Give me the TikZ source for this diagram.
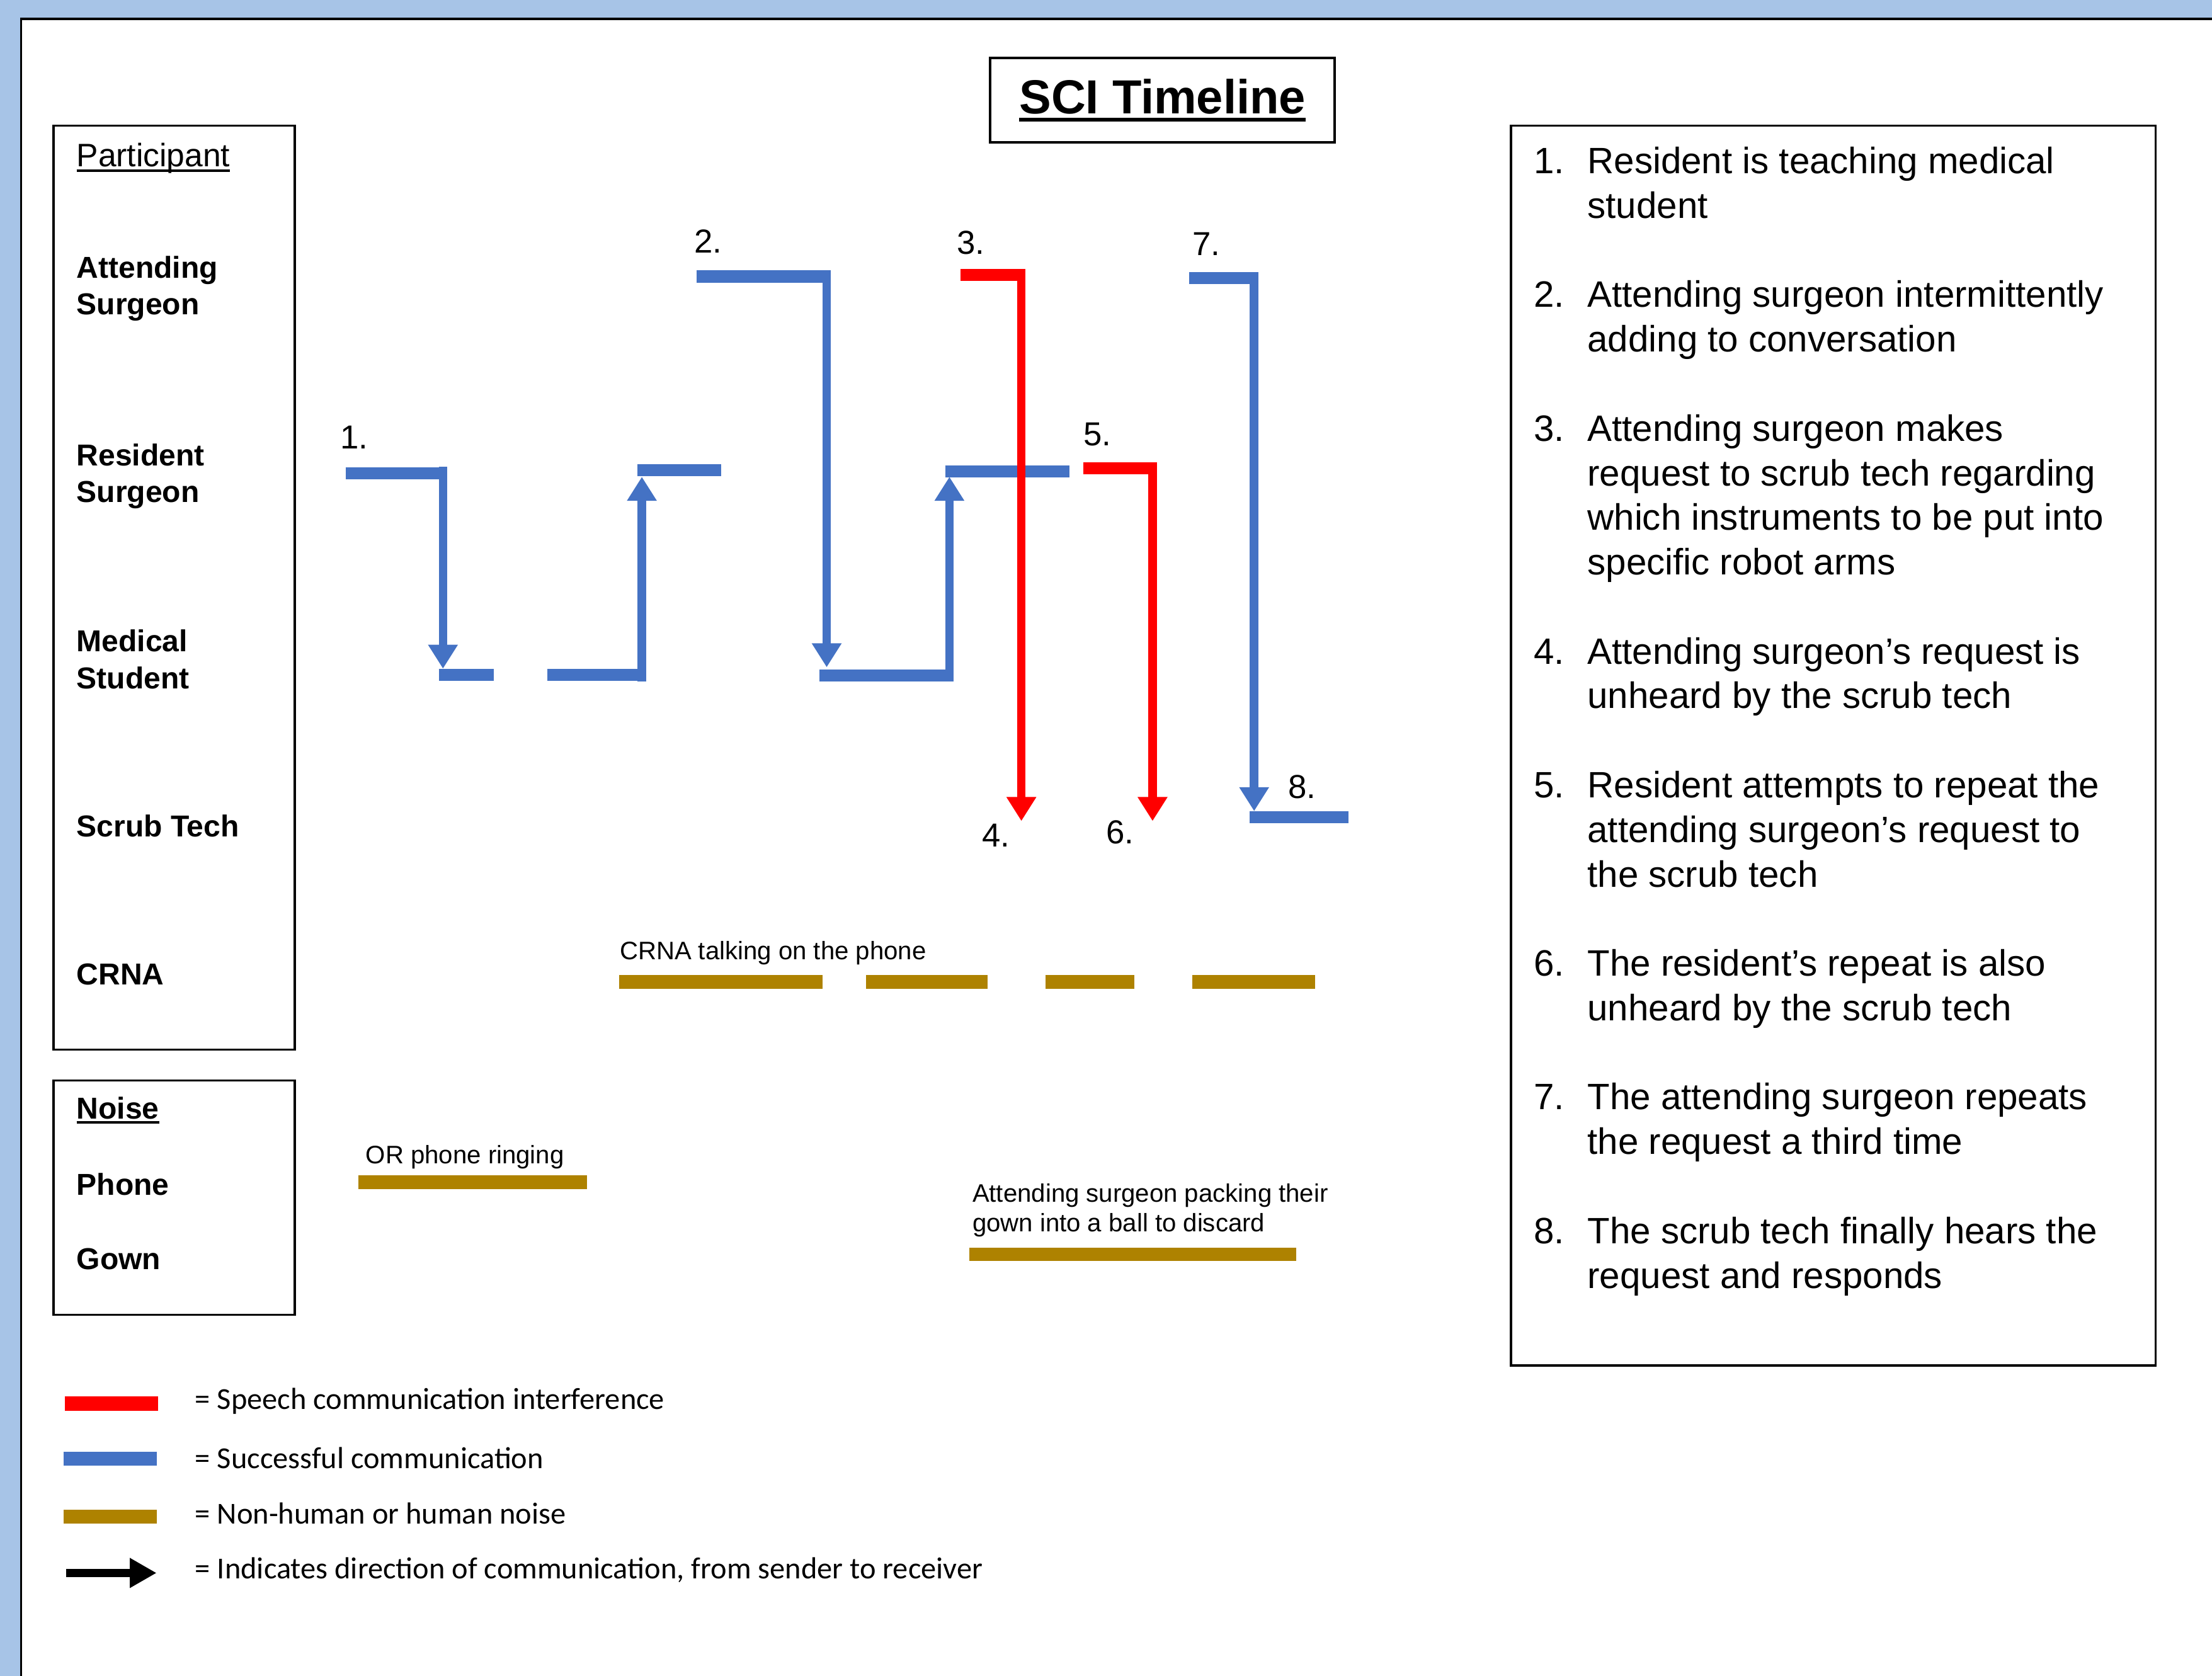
\documentclass[tikz,border=0pt]{standalone}
\usepackage{fontspec}
\setmainfont{Liberation Sans}
\newfontfamily\legendfont{Carlito}
\usetikzlibrary{arrows.meta}

\definecolor{pageblue}{RGB}{167,196,231}
\definecolor{okblue}{RGB}{68,114,196}
\definecolor{sciRed}{RGB}{255,0,0}
\definecolor{noisegold}{RGB}{174,130,0}

\newcommand{\ulword}[1]{\setbox0=\hbox{#1}\rlap{\rule[-0.17em]{\wd0}{0.08em}}\box0}
\newcommand{\itemfont}{\fontsize{14.8pt}{18pt}\selectfont}
\newcommand{\rolefont}{\bfseries\fontsize{12.2pt}{14.8pt}\selectfont}
\newcommand{\notefont}{\fontsize{10.2pt}{12pt}\selectfont}
\newcommand{\lines}[1]{\parbox[t]{90mm}{#1}}

\tikzset{
    box/.style={line width=0.3mm},
    hbar/.style={line width=1.7mm},
    vbar/.style={line width=1.2mm, -{Triangle[width=4mm,length=3.4mm]}},
    noisebar/.style={line width=1.9mm, noisegold},
    swatch/.style={line width=2mm},
    role/.style={anchor=base west, inner sep=0pt, font=\rolefont},
    itemtext/.style={anchor=base west, inner sep=0pt, font=\itemfont},
    stepnum/.style={inner sep=0pt, font=\fontsize{13.4pt}{15pt}\selectfont},
    note/.style={anchor=base west, inner sep=0pt, font=\notefont},
    keytext/.style={anchor=base west, inner sep=0pt, font=\legendfont\fontsize{12.3pt}{14pt}\selectfont}
}

\begin{document}
\begin{tikzpicture}[x=0.2mm, y=-0.2mm]
    \useasboundingbox (0,0) rectangle (1568,1188);
    \fill[pageblue] (0,0) rectangle (1568,1188);
    \fill[white] (15,13.4) rectangle (1568,1188);
    \draw[box] (15,1188) -- (15,13.4) -- (1568,13.4);

    \node[draw, line width=0.35mm, minimum width=48.8mm, minimum height=12mm, inner sep=0pt,
          font=\bfseries\fontsize{19.3pt}{22pt}\selectfont] (title) at (824,71) {\ulword{SCI Timeline}};

    % participants
    \draw[box] (38,89) rectangle (209,744);
    \node[role, font=\fontsize{13.1pt}{15pt}\selectfont] (participant) at (54,118) {\ulword{Participant}};
    \node[role] (attending) at (54,197) {\lines{Attending\\Surgeon}};
    \node[role] (resident) at (54,330) {\lines{Resident\\Surgeon}};
    \node[role] (student) at (54,462) {\lines{Medical\\Student}};
    \node[role] (scrub) at (54,593) {Scrub Tech};
    \node[role] (crna) at (54,698) {CRNA};

    \draw[box] (38,766) rectangle (209,932);
    \node[role] (noise) at (54,793) {\ulword{Noise}};
    \node[role] (phone) at (54,847) {Phone};
    \node[role] (gown) at (54,900) {Gown};

    % timeline
    \draw[hbar, okblue] (245,335.5) -- (317,335.5);
    \draw[vbar, okblue] (314,331) -- (314,474);
    \draw[hbar, okblue] (311,478.5) -- (350,478.5);
    \draw[hbar, okblue] (388,478.5) -- (458,478.5);
    \draw[vbar, okblue] (455,483) -- (455,338);
    \draw[hbar, okblue] (452,333.5) -- (511,333.5);

    \draw[hbar, okblue] (494,196) -- (589,196);
    \draw[vbar, okblue] (586,192) -- (586,473);
    \draw[hbar, okblue] (581,479) -- (675,479);
    \draw[vbar, okblue] (673,483) -- (673,338);
    \draw[hbar, okblue] (670,334) -- (758,334);

    \draw[hbar, okblue] (843,197) -- (892,197);
    \draw[vbar, okblue] (889,193) -- (889,575);
    \draw[hbar, okblue] (886,579.5) -- (956,579.5);

    \draw[hbar, sciRed] (681,195) -- (727,195);
    \draw[vbar, sciRed] (724,191) -- (724,582);
    \draw[hbar, sciRed] (768,332) -- (820,332);
    \draw[vbar, sciRed] (817,328) -- (817,582);

    \node[stepnum] (s1) at (251,310) {1.};
    \node[stepnum] (s2) at (502,171) {2.};
    \node[stepnum] (s3) at (688,172) {3.};
    \node[stepnum] (s4) at (706,592) {4.};
    \node[stepnum] (s5) at (778,308) {5.};
    \node[stepnum] (s6) at (794,590) {6.};
    \node[stepnum] (s7) at (855,173) {7.};
    \node[stepnum] (s8) at (923,558) {8.};

    % noise
    \node[note] (crnaphone) at (439,680) {CRNA talking on the phone};
    \draw[noisebar] (439,696) -- (583,696);
    \draw[noisebar] (614,696) -- (700,696);
    \draw[noisebar] (741,696) -- (804,696);
    \draw[noisebar] (845,696) -- (932,696);
    \node[note] (ring) at (259,825) {OR phone ringing};
    \draw[noisebar] (254,838) -- (416,838);
    \node[note] (packing) at (689,852) {\lines{Attending surgeon packing their\\gown into a ball to discard}};
    \draw[noisebar] (687,889) -- (919,889);

    % steps
    \draw[box] (1071,89) rectangle (1528,968);
    \node[itemtext] (n1) at (1087,123) {1.};
    \node[itemtext] (t1) at (1125,123) {\lines{Resident is teaching medical\\student}};
    \node[itemtext] (n2) at (1087,217.8) {2.};
    \node[itemtext] (t2) at (1125,217.8) {\lines{Attending surgeon intermittently\\adding to conversation}};
    \node[itemtext] (n3) at (1087,312.6) {3.};
    \node[itemtext] (t3) at (1125,312.6) {\lines{Attending surgeon makes\\request to scrub tech regarding\\which instruments to be put into\\specific robot arms}};
    \node[itemtext] (n4) at (1087,470.6) {4.};
    \node[itemtext] (t4) at (1125,470.6) {\lines{Attending surgeon’s request is\\unheard by the scrub tech}};
    \node[itemtext] (n5) at (1087,565.4) {5.};
    \node[itemtext] (t5) at (1125,565.4) {\lines{Resident attempts to repeat the\\attending surgeon’s request to\\the scrub tech}};
    \node[itemtext] (n6) at (1087,691.8) {6.};
    \node[itemtext] (t6) at (1125,691.8) {\lines{The resident’s repeat is also\\unheard by the scrub tech}};
    \node[itemtext] (n7) at (1087,786.6) {7.};
    \node[itemtext] (t7) at (1125,786.6) {\lines{The attending surgeon repeats\\the request a third time}};
    \node[itemtext] (n8) at (1087,881.4) {8.};
    \node[itemtext] (t8) at (1125,881.4) {\lines{The scrub tech finally hears the\\request and responds}};

    % key
    \draw[swatch, sciRed] (46,995) -- (112,995);
    \node[keytext] (keyred) at (138,999) {= Speech communication interference};
    \draw[swatch, okblue] (45,1034) -- (111,1034);
    \node[keytext] (keyblue) at (138,1041) {= Successful communication};
    \draw[swatch, noisegold] (45,1075) -- (111,1075);
    \node[keytext] (keygold) at (138,1080) {= Non-human or human noise};
    \draw[line width=1.2mm, -{Triangle[width=4mm,length=3.8mm]}] (47,1115) -- (111,1115);
    \node[keytext] (keyarrow) at (138,1119) {= Indicates direction of communication, from sender to receiver};
\end{tikzpicture}
\end{document}
